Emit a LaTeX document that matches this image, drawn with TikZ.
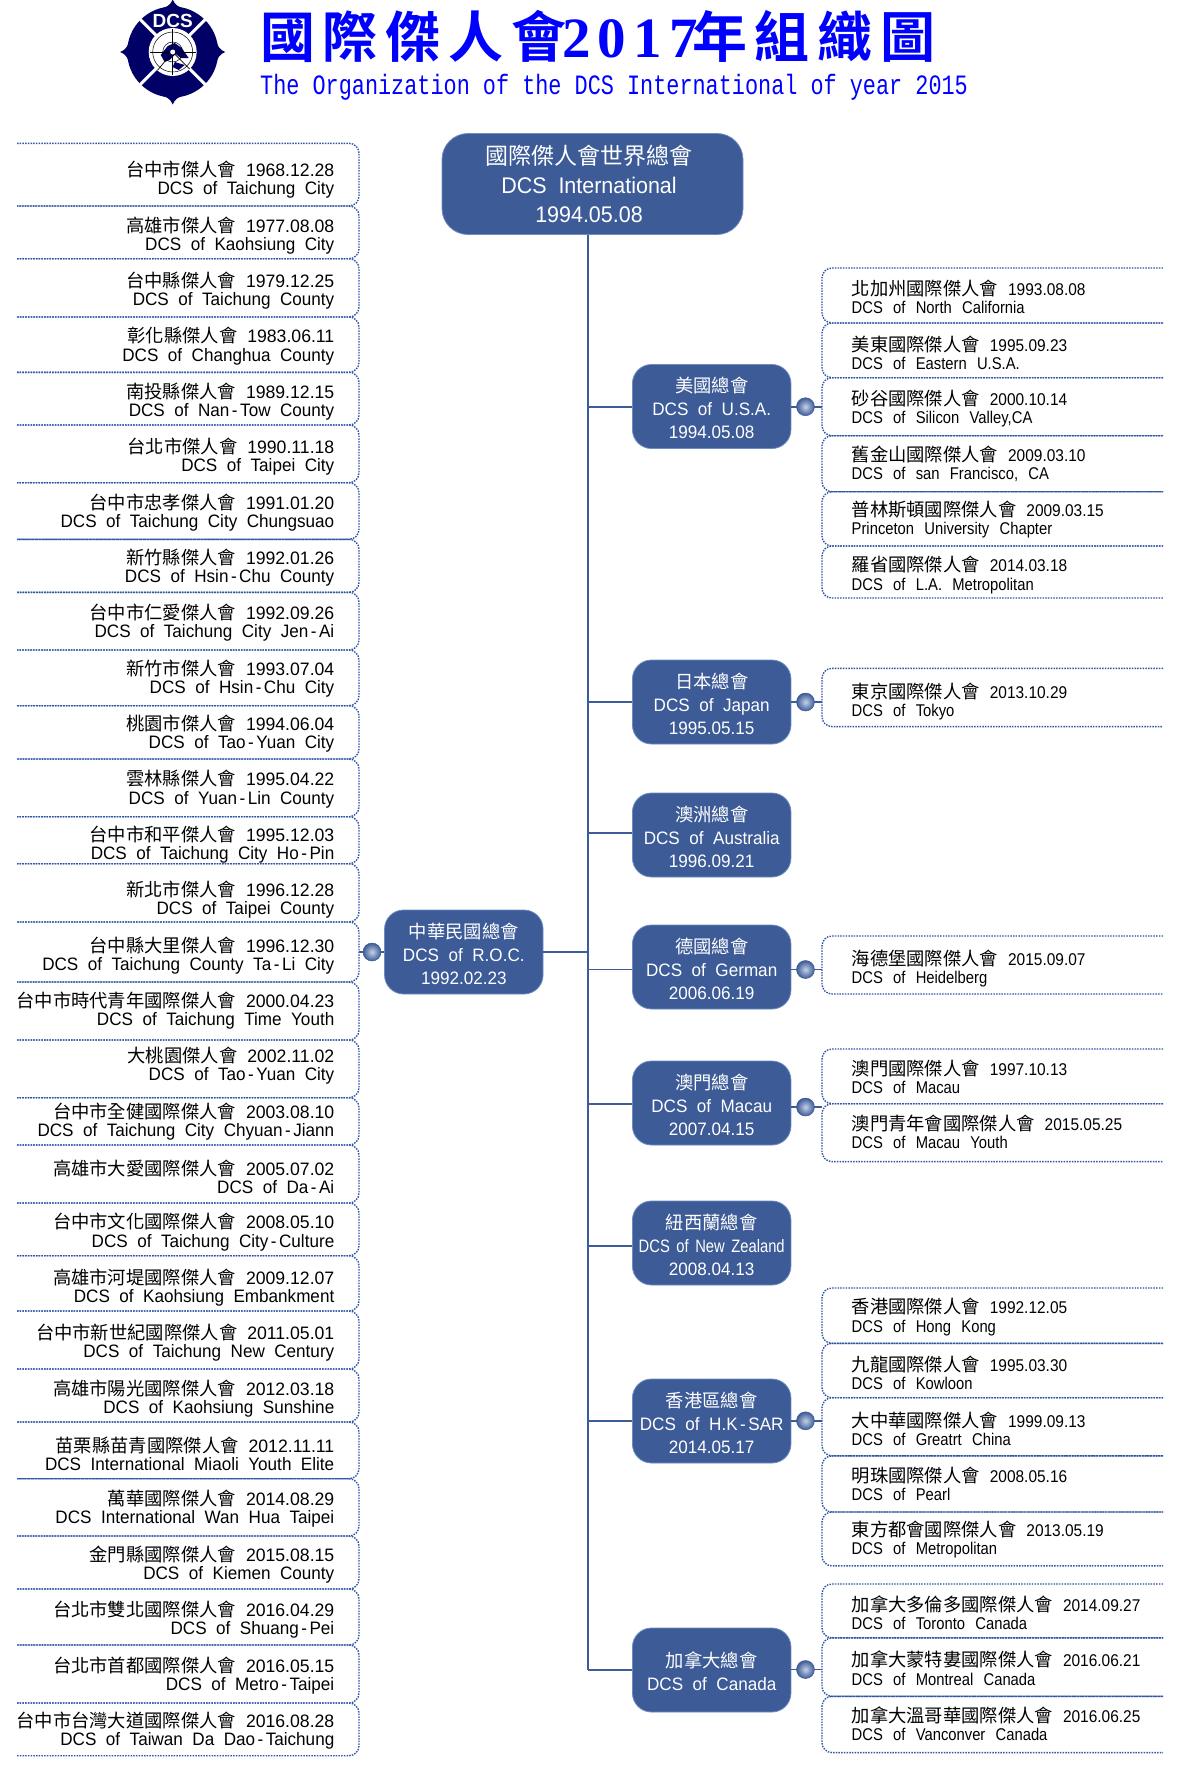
\documentclass[tikz,border=0pt]{standalone}
\usepackage{fontspec}
\setmainfont{Liberation Sans}
\newfontfamily\cjkf{Noto Sans CJK TC}
\newfontfamily\ttlcjk[LetterSpace=14]{Noto Sans CJK TC Bold}
\newfontfamily\ttldig[LetterSpace=13]{Liberation Serif Bold}
\newfontfamily\subf[FakeStretch=0.78]{Liberation Mono}
\newfontfamily\lfont[FakeStretch=0.95,WordSpace=2]{Liberation Sans}
\newfontfamily\ldatef[FakeStretch=0.98]{Liberation Sans}
\newfontfamily\rfont[FakeStretch=0.91,WordSpace=2.4]{Liberation Sans}
\newfontfamily\rtwo[FakeStretch=0.87,WordSpace=2.5]{Liberation Sans}
\newfontfamily\nzfont[FakeStretch=0.82,WordSpace=1.6]{Liberation Sans}
\newcommand\cj[1]{{\cjkf\fontsize{18.3}{18.2}\selectfont #1}}
\newcommand\orgh[1]{\cj{\rule{0pt}{19pt}#1}}
\newcommand\hyw{\kern2.5pt-\kern2.5pt}
\definecolor{boxblue}{HTML}{3C5B97}
\definecolor{boxedge}{HTML}{6E8CC4}
\definecolor{dotblue}{HTML}{2F54A6}
\definecolor{navy}{HTML}{000066}
\tikzset{
  x=1pt,y=-1pt,
  dotbox/.style={draw=dotblue,line width=1.4pt,dash pattern=on 1.5pt off 1.2pt,rounded corners=10pt},
  ltext/.style={anchor=east,align=right,inner sep=0pt,text=black,font=\lfont\fontsize{18}{18.2}\selectfont},
  rtext/.style={anchor=west,align=left,inner sep=0pt,text=black,font=\rfont\fontsize{17}{18.2}\selectfont},
  org/.style={draw=boxedge,line width=0.8pt,fill=boxblue,rounded corners=19pt,minimum width=158.5pt,minimum height=84pt,inner sep=0pt,align=center,text=white,font=\lfont\fontsize{18}{23}\selectfont},
  topbox/.style={draw=boxedge,line width=0.8pt,fill=boxblue,rounded corners=26pt,minimum width=301pt,minimum height=101pt,inner sep=0pt,align=center,text=white,font=\lfont\fontsize{22.6}{29}\selectfont},
  link/.style={draw=boxblue,line width=1.6pt},
  bullet/.style={circle,draw=boxblue,line width=0.5pt,minimum size=18pt,inner sep=0pt,inner color=boxedge!40!white,outer color=boxblue}
}
\newcommand\lrow[7]{%
  \draw[dotbox] (17,#2) -| (359,#3) -- (17,#3);
  \node[ltext] (#1) at (334.5,#4+0.5) {\cj{#5}\hspace{10pt}{\ldatef #6}\\#7};
}
\newcommand\rrow[7]{%
  \draw[dotbox] (1163,#2) -| (822,#3) -- (1163,#3);
  \node[rtext] (#1) at (851.5,#4-1.2) {\cj{#5}\hspace{10pt}#6\\{\rtwo #7}};
}
\begin{document}
\begin{tikzpicture}
\useasboundingbox (0,0) rectangle (1181,1773);
\fill[white] (0,0) rectangle (1181,1773);

% logo
\begin{scope}[shift={(172.7,52)}]
  \fill[navy] (0,0) circle (45.5);
  \foreach \a in {0,90,180,270}{
    \fill[navy,rotate=\a] (0,-52.5) .. controls (2,-47) and (6,-44.5) .. (15,-42) -- (-15,-42) .. controls (-6,-44.5) and (-2,-47) .. cycle;
  }
  \foreach \a in {45,135,225,315}{
    \draw[white,line width=3pt] (\a:22) -- (\a:46.5);
  }
  \fill[white] (0,0) circle (24);
  \fill[navy] (-12,3) -- (-5,-6) -- (2,-9) -- (9,-4) -- (16,6) -- (8,6) -- (3,2) -- (-3,8) -- (-8,10) -- cycle;
  \fill[navy] (2,10) -- (12,13) -- (6,18) -- (0,15) -- cycle;
  \draw[black,line width=0.5pt] (0,0) circle (20) (0,0) circle (10);
  \draw[black,line width=0.5pt] (-23,0) -- (23,0) (0,-23) -- (0,23);
  \draw[black,line width=0.7pt] (0,0) -- (-15,18) (0,0) -- (17,17);
  \fill[white] (0,0) circle (2.5);
  \node[text=white,inner sep=0pt,font=\bfseries\fontsize{19}{19}\selectfont] (dcslogo) at (0,-31) {DCS};
\end{scope}

% title
\node[anchor=west,inner sep=0pt,text=blue] (title) at (260,36) {{\ttlcjk\fontsize{55}{60}\selectfont 國際傑人會}\hspace{-4pt}{\ttldig\fontsize{57}{60}\selectfont 2017}\hspace{-6pt}{\ttlcjk\fontsize{55}{60}\selectfont 年組織圖}};
\node[anchor=west,inner sep=0pt,text=blue,font=\subf\fontsize{28}{30}\selectfont] (subtitle) at (260,87.5) {The Organization of the DCS International of year 2015};

% org boxes
\coordinate (trunkend) at (588,1670);
\node[topbox] (top) at (592.5,184) {\hspace*{-7pt}{\cjkf\fontsize{23}{29}\selectfont 國際傑人會世界總會}\\\hspace*{-7pt}DCS International\\\hspace*{-7pt}1994.05.08};
\node[org] (roc) at (463.8,952) {\orgh{中華民國總會}\\DCS of R.O.C.\\1992.02.23};
\node[org] (usa) at (711.7,406.5) {\orgh{美國總會}\\DCS of U.S.A.\\1994.05.08};
\node[org] (japan) at (711.7,702) {\orgh{日本總會}\\DCS of Japan\\1995.05.15};
\node[org] (aus) at (711.7,835) {\orgh{澳洲總會}\\DCS of Australia\\1996.09.21};
\node[org] (german) at (711.7,967) {\orgh{德國總會}\\DCS of German\\2006.06.19};
\node[org] (macau) at (711.7,1103) {\orgh{澳門總會}\\DCS of Macau\\2007.04.15};
\node[org] (nz) at (711.7,1243) {\orgh{紐西蘭總會}\\{\nzfont DCS of New Zealand}\\2008.04.13};
\node[org] (hk) at (711.7,1421) {\orgh{香港區總會}\\DCS of H.K\hyw SAR\\2014.05.17};
\node[org] (canada) at (711.7,1670) {\orgh{加拿大總會}\\DCS of Canada};

% trunk
\draw[link,line width=1.2pt] (top.south -| trunkend) -- (trunkend);
\draw[link] (roc.east) -- (roc.east -| trunkend);
\foreach \n/\yy in {usa/406.7,japan/702,aus/833,german/969.5,macau/1104,nz/1245.7,hk/1420.8,canada/1670}{
  \coordinate (br\n) at (588,\yy);
  \draw[link] (br\n) -- (br\n -| \n.west);
}

% left list
\lrow{l0}{143.3}{206}{179.4}{台中市傑人會}{1968.12.28}{DCS of Taichung City}
\lrow{l1}{206}{258.7}{234.8}{高雄市傑人會}{1977.08.08}{DCS of Kaohsiung City}
\lrow{l2}{258.7}{317}{290.2}{台中縣傑人會}{1979.12.25}{DCS of Taichung County}
\lrow{l3}{317}{372.3}{345.5}{彰化縣傑人會}{1983.06.11}{DCS of Changhua County}
\lrow{l4}{372.3}{425}{400.9}{南投縣傑人會}{1989.12.15}{DCS of Nan\hyw Tow County}
\lrow{l5}{425}{482.7}{456.3}{台北市傑人會}{1990.11.18}{DCS of Taipei City}
\lrow{l6}{482.7}{539.3}{511.7}{台中市忠孝傑人會}{1991.01.20}{DCS of Taichung City Chungsuao}
\lrow{l7}{539.3}{592.3}{567.1}{新竹縣傑人會}{1992.01.26}{DCS of Hsin\hyw Chu County}
\lrow{l8}{592.3}{650}{622.4}{台中市仁愛傑人會}{1992.09.26}{DCS of Taichung City Jen\hyw Ai}
\lrow{l9}{650}{705.7}{677.8}{新竹市傑人會}{1993.07.04}{DCS of Hsin\hyw Chu City}
\lrow{l10}{705.7}{759}{733.2}{桃園市傑人會}{1994.06.04}{DCS of Tao\hyw Yuan City}
\lrow{l11}{759}{816.7}{788.6}{雲林縣傑人會}{1995.04.22}{DCS of Yuan\hyw Lin County}
\lrow{l12}{816.7}{863.7}{844}{台中市和平傑人會}{1995.12.03}{DCS of Taichung City Ho\hyw Pin}
\lrow{l13}{863.7}{922}{899.3}{新北市傑人會}{1996.12.28}{DCS of Taipei County}
\lrow{l14}{922}{982}{954.7}{台中縣大里傑人會}{1996.12.30}{DCS of Taichung County Ta\hyw Li City}
\lrow{l15}{982}{1040}{1010.1}{台中市時代青年國際傑人會}{2000.04.23}{DCS of Taichung Time Youth}
\lrow{l16}{1040}{1097.7}{1065.5}{大桃園傑人會}{2002.11.02}{DCS of Tao\hyw Yuan City}
\lrow{l17}{1097.7}{1145}{1120.9}{台中市全健國際傑人會}{2003.08.10}{DCS of Taichung City Chyuan\hyw Jiann}
\lrow{l18}{1145}{1203}{1176.2}{高雄市大愛國際傑人會}{2005.07.02}{DCS of Da\hyw Ai}
\lrow{l19}{1203}{1255.7}{1231.6}{台中市文化國際傑人會}{2008.05.10}{DCS of Taichung City\hyw Culture}
\lrow{l20}{1255.7}{1311}{1287}{高雄市河堤國際傑人會}{2009.12.07}{DCS of Kaohsiung Embankment}
\lrow{l21}{1311}{1369}{1342.4}{台中市新世紀國際傑人會}{2011.05.01}{DCS of Taichung New Century}
\lrow{l22}{1369}{1422}{1397.8}{高雄市陽光國際傑人會}{2012.03.18}{DCS of Kaohsiung Sunshine}
\lrow{l23}{1422}{1478.7}{1453.1}{苗栗縣苗青國際傑人會}{2012.11.11}{DCS International Miaoli Youth Elite}
\lrow{l24}{1478.7}{1536}{1508.5}{萬華國際傑人會}{2014.08.29}{DCS International Wan Hua Taipei}
\lrow{l25}{1536}{1589}{1563.9}{金門縣國際傑人會}{2015.08.15}{DCS of Kiemen County}
\lrow{l26}{1589}{1645}{1619.3}{台北市雙北國際傑人會}{2016.04.29}{DCS of Shuang\hyw Pei}
\lrow{l27}{1645}{1703}{1674.7}{台北市首都國際傑人會}{2016.05.15}{DCS of Metro\hyw Taipei}
\lrow{l28}{1703}{1755.7}{1730}{台中市台灣大道國際傑人會}{2016.08.28}{DCS of Taiwan Da Dao\hyw Taichung}

% right lists
\rrow{a0}{268}{323}{298.4}{北加州國際傑人會}{1993.08.08}{DCS of North California}
\rrow{a1}{323}{377.7}{354}{美東國際傑人會}{1995.09.23}{DCS of Eastern U.S.A.}
\rrow{a2}{377.7}{435.7}{409.7}{砂谷國際傑人會}{2000.10.14}{DCS of Silicon Valley,CA}
\rrow{a3}{435.7}{491.7}{465.2}{舊金山國際傑人會}{2009.03.10}{DCS of san Francisco, CA}
\rrow{a4}{491.7}{546}{520.9}{普林斯頓國際傑人會}{2009.03.15}{Princeton University Chapter}
\rrow{a5}{546}{598}{576.2}{羅省國際傑人會}{2014.03.18}{DCS of L.A. Metropolitan}
\rrow{j0}{668.3}{726.6}{702.3}{東京國際傑人會}{2013.10.29}{DCS of Tokyo}
\rrow{g0}{936}{994}{969.8}{海德堡國際傑人會}{2015.09.07}{DCS of Heidelberg}
\rrow{m0}{1049}{1103.7}{1078.3}{澳門國際傑人會}{1997.10.13}{DCS of Macau}
\rrow{m1}{1103.7}{1161.6}{1132.7}{澳門青年會國際傑人會}{2015.05.25}{DCS of Macau Youth}
\rrow{h0}{1288}{1343.3}{1318.2}{香港國際傑人會}{1992.12.05}{DCS of Hong Kong}
\rrow{h1}{1343.3}{1397.7}{1373.9}{九龍國際傑人會}{1995.03.30}{DCS of Kowloon}
\rrow{h2}{1397.7}{1455.8}{1429.7}{大中華國際傑人會}{1999.09.13}{DCS of Greatrt China}
\rrow{h3}{1455.8}{1512}{1485}{明珠國際傑人會}{2008.05.16}{DCS of Pearl}
\rrow{h4}{1512}{1565.9}{1540.4}{東方都會國際傑人會}{2013.05.19}{DCS of Metropolitan}
\rrow{c0}{1584}{1637.9}{1613.8}{加拿大多倫多國際傑人會}{2014.09.27}{DCS of Toronto Canada}
\rrow{c1}{1637.9}{1696.3}{1669.4}{加拿大蒙特婁國際傑人會}{2016.06.21}{DCS of Montreal Canada}
\rrow{c2}{1696.3}{1752.6}{1724.9}{加拿大溫哥華國際傑人會}{2016.06.25}{DCS of Vanconver Canada}

% bullets
\coordinate (rocend) at (359,952);
\node[bullet] (broc) at (372,952) {};
\draw[link] (rocend) -- (broc) (broc) -- (roc.west);
\foreach \n/\b/\yy in {usa/busa/406.7,japan/bjapan/702,german/bgerman/969.5,macau/bmacau/1107,hk/bhk/1420.8,canada/bcanada/1669.5}{
  \coordinate (\b e) at (822,\yy);
  \draw[link] (\b e) -- (\b e -| \n.east);
  \node[bullet] (\b) at (805.5,\yy) {};
}
\end{tikzpicture}
\end{document}
